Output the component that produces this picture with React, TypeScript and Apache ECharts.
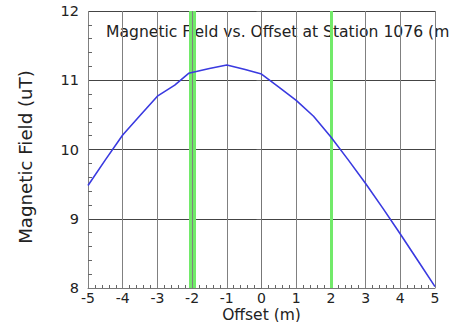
import React, { useEffect, useRef } from "react";
import * as echarts from "echarts";

const offsets = [-5, -4.5, -4, -3.5, -3, -2.5, -2.1, -1.5, -1, -0.5, 0, 0.5, 1, 1.5, 2, 2.5, 3, 3.5, 4, 4.5, 5];
const fieldValues = [9.48, 9.85, 10.21, 10.49, 10.77, 10.93, 11.1, 11.17, 11.22, 11.16, 11.09, 10.9, 10.71, 10.48, 10.18, 9.85, 9.51, 9.15, 8.78, 8.4, 8.02];
const markerOffsets = [-2.06, -1.95, 2.02];
const titleText = "Magnetic Field vs. Offset at Station 1076 (m";
const xName = "Offset (m)";
const yName = "Magnetic Field (uT)";

const FONT = "DejaVu Sans";

export default function App() {
  const ref = useRef<HTMLDivElement>(null);
  useEffect(() => {
    if (!ref.current) return;
    const chart = echarts.init(ref.current, null, { renderer: "svg" });
    const points = offsets.map((x, i) => [x, fieldValues[i]]);
    chart.setOption({
      animation: false,
      backgroundColor: "#ffffff",
      grid: { left: 88, right: 17, top: 11, bottom: 34, containLabel: false, outerBoundsMode: "none" },
      xAxis: {
        type: "value",
        min: -5,
        max: 5,
        interval: 1,
        name: xName,
        nameLocation: "middle",
        nameGap: 19,
        nameMoveOverlap: false,
        nameTextStyle: { fontFamily: FONT, fontSize: 15.5, lineHeight: 15, color: "#222", verticalAlign: "top" },
        axisLine: { show: true, lineStyle: { color: "#777", width: 1 } },
        axisTick: { show: false, inside: true },
        minorTick: { show: true, splitNumber: 5, length: 3, lineStyle: { color: "#666" } },
        axisLabel: { margin: 3, fontFamily: FONT, fontSize: 14, lineHeight: 13, color: "#222" },
        splitLine: { show: true, lineStyle: { color: "#808080", width: 1 } },
      },
      yAxis: [
        {
          type: "value",
          min: 8,
          max: 12,
          interval: 1,
          axisLine: { show: true, lineStyle: { color: "#777", width: 1 } },
          axisTick: { show: true, inside: false, length: 5, lineStyle: { color: "#666" } },
          axisLabel: { margin: 9, fontFamily: FONT, fontSize: 14.5, color: "#222" },
          splitLine: { show: true, lineStyle: { color: "#444", width: 1 } },
        },
        {
          type: "value",
          min: 8,
          max: 12,
          interval: 1,
          position: "left",
          axisLine: { show: false },
          axisTick: { show: false, inside: true },
          minorTick: { show: true, splitNumber: 5, length: 4, lineStyle: { color: "#666" } },
          axisLabel: { show: false },
          splitLine: { show: false },
        },
      ],
      graphic: [
        {
          type: "text",
          x: 106,
          y: 32,
          style: {
            text: titleText,
            fontFamily: FONT,
            fontSize: 15.6,
            fill: "#222",
            textAlign: "left",
            textVerticalAlign: "middle",
          },
        },
        {
          type: "text",
          x: 25,
          y: 157,
          rotation: Math.PI / 2,
          style: {
            text: yName,
            fontFamily: FONT,
            fontSize: 18.2,
            fill: "#222",
            textAlign: "center",
            textVerticalAlign: "middle",
          },
        },
      ],
      series: [
        {
          type: "line",
          data: points,
          showSymbol: false,
          symbol: "none",
          lineStyle: { color: "#3a3ae0", width: 1.6 },
          z: 3,
          markLine: {
            silent: true,
            symbol: "none",
            label: { show: false },
            lineStyle: { color: "#72ea6a", width: 3, type: "solid" },
            data: markerOffsets.map((v) => ({ xAxis: v })),
            z: 2,
          },
        },
      ],
    });
    return () => chart.dispose();
  }, []);
  return (
    <div
      ref={ref}
      style={{ position: "fixed", left: 0, top: 0, width: 452, height: 322, background: "#fff" }}
    />
  );
}
